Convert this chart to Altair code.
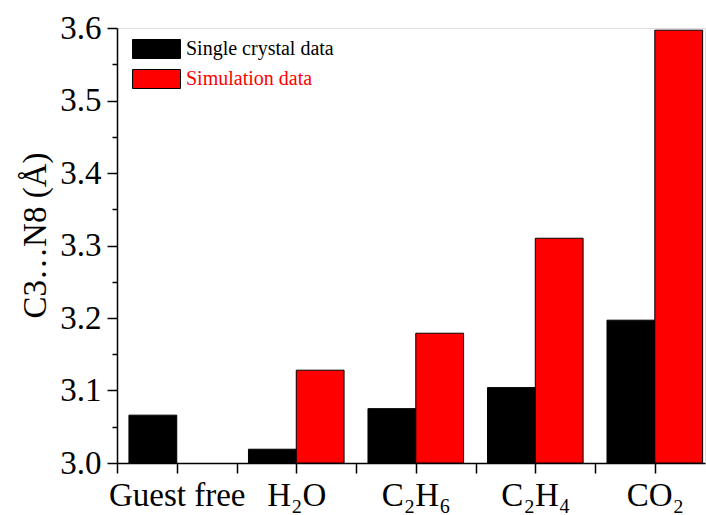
import json
import altair as alt
import pandas as pd

categories = ["Guest free", "H₂O", "C₂H₆", "C₂H₄", "CO₂"]
single_crystal = [3.066, 3.019, 3.075, 3.104, 3.197]
simulation = [None, 3.128, 3.179, 3.310, 3.597]
series_names = ["Single crystal data", "Simulation data"]
series_colors = ["#000000", "#ff0000"]
y_title = "C3…N8 (Å)"

rows = []
for i, c in enumerate(categories):
    if single_crystal[i] is not None:
        rows.append({"idx": i, "category": c, "series": series_names[0], "value": single_crystal[i]})
    if simulation[i] is not None:
        rows.append({"idx": i, "category": c, "series": series_names[1], "value": simulation[i]})
df = pd.DataFrame(rows)

FONT = "Liberation Serif"
HALF = 0.40
label_expr = json.dumps(categories) + "[datum.value] || ''"

x_axis = alt.Axis(
    values=[-0.5, 0, 0.5, 1, 1.5, 2, 2.5, 3, 3.5, 4],
    labelExpr=f"datum.value % 1 == 0 ? {json.dumps(categories)}[datum.value] : ''",
    title=None, grid=False, tickSize=10, tickWidth=1.5, tickColor="black",
    domainColor="black", domainWidth=1.5,
    labelFont=FONT, labelFontSize=33, labelColor="black",
    labelBaseline="alphabetic", labelPadding=32, labelFlush=False, labelOverlap=False,
)

y_axis = alt.Axis(
    values=[3.0, 3.05, 3.1, 3.15, 3.2, 3.25, 3.3, 3.35, 3.4, 3.45, 3.5, 3.55, 3.6],
    labelExpr="round(datum.value*100) % 10 == 0 ? format(datum.value, '.1f') : ''",
    tickSize={"expr": "round(datum.value*100) % 10 == 0 ? 10 : 5"},
    tickWidth=1.5, tickColor="black", domainColor="black", domainWidth=1.5,
    grid=False, labelFont=FONT, labelFontSize=33, labelColor="black",
    labelPadding=6, labelFlush=False, labelOverlap=False,
    title=y_title, titleFont=FONT, titleFontSize=33, titleFontWeight="normal",
    titleColor="black", titleX=-72, titleY=207, titleAngle=270,
    titleAlign="center", titleBaseline="alphabetic",
)

legend = alt.Legend(
    title=None, orient="none", legendX=28, legendY=9.5, padding=0,
    symbolType="M-2.18,-0.864H2.18V0.864H-2.18Z", symbolSize=484,
    symbolStrokeColor="black", symbolStrokeWidth=1, symbolOpacity=1,
    labelFont=FONT, labelFontSize=20, labelOffset=18, rowPadding=5,
    labelColor={"expr": "datum.value == 'Simulation data' ? '#ff0000' : '#000000'"},
)

chart = alt.Chart(df).transform_calculate(
    x0=f"datum.idx + (datum.series == 'Simulation data' ? 0 : -{HALF})",
    x1=f"datum.idx + (datum.series == 'Simulation data' ? {HALF} : 0)",
).mark_bar(stroke="black", strokeWidth=1, clip=True, opacity=1).encode(
    x=alt.X("x0:Q", scale=alt.Scale(domain=[-0.5, 4.42], nice=False, zero=False), axis=x_axis),
    x2="x1:Q",
    y=alt.Y("value:Q", scale=alt.Scale(domain=[3.0, 3.6], nice=False, zero=False), axis=y_axis),
    y2=alt.datum(3.0),
    color=alt.Color("series:N", scale=alt.Scale(domain=series_names, range=series_colors), legend=legend),
).properties(
    width=588, height=435,
    autosize=alt.AutoSizeParams(type="none"),
    padding={"left": 117, "top": 28, "right": 1, "bottom": 52},
).configure_view(stroke=None).configure(background="white")

chart.save("out.html", embed_options={"renderer": "svg", "actions": False})
